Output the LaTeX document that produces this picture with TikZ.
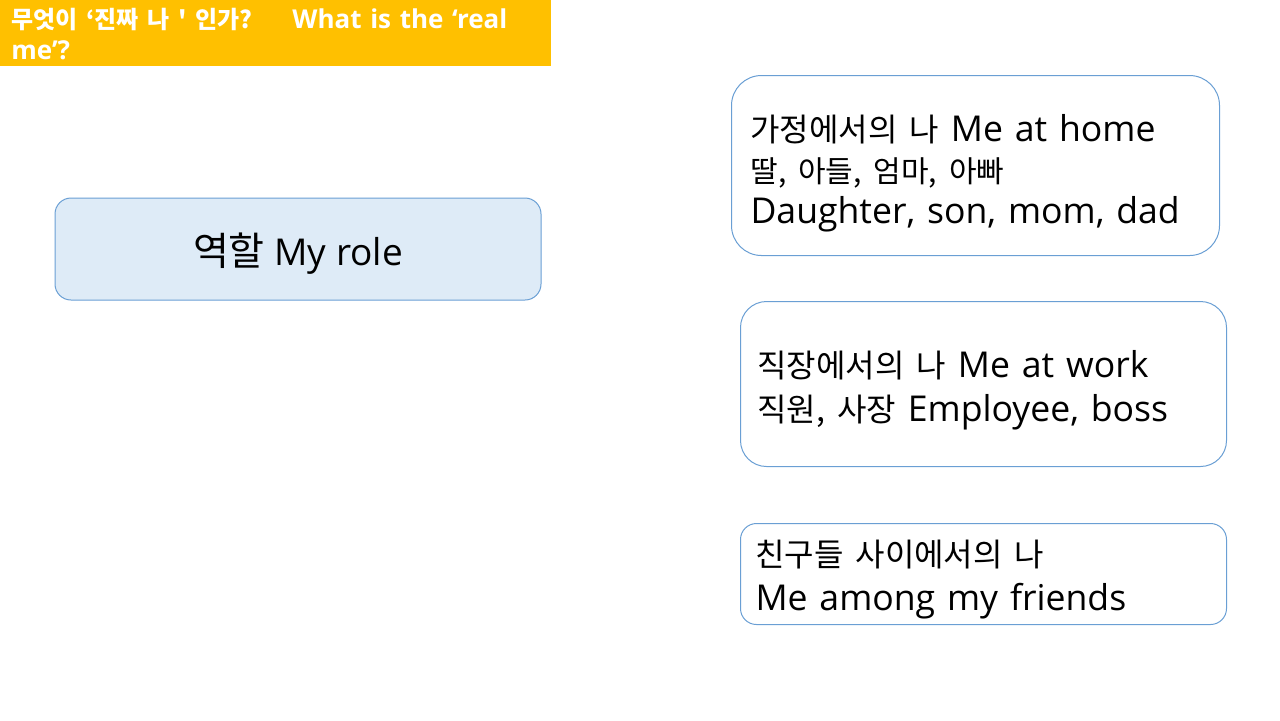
\documentclass[tikz,border=0pt]{standalone}
\usepackage{fontspec}
\setmainfont{Open Sans}
\newfontfamily\kr{Noto Sans CJK KR}
\newcommand{\ko}[2][16]{{\kr\fontsize{#1}{20}\selectfont #2}}
\newcommand{\topgap}[1]{\rule{0pt}{#1}}
\definecolor{titlegold}{HTML}{FFC000}
\definecolor{roleblue}{HTML}{DEEBF7}
\definecolor{edgeblue}{HTML}{6A9FD4}
\begin{document}
\begin{tikzpicture}[x=0.5pt, y=-0.5pt,
    rolebox/.style={draw=edgeblue, line width=0.5pt, rounded corners=8pt, anchor=north west, inner sep=0pt},
    sidebox/.style={rolebox, fill=white, align=left, text width=#1}]
\useasboundingbox (0,0) rectangle (1280,720);
% title bar
\fill[titlegold] (0,0) rectangle (551,66);
\node[anchor=north west, text width=255pt, align=left, text=white,
      font=\bfseries\fontsize{13}{15.5}\selectfont, inner sep=0pt] (title) at (11,8)
    {\ko[12]{무엇이 ‘진짜 나 {\char"0027} 인가?}\hspace{20pt}What is the ‘real me’?};
% left box
\node[rolebox, fill=roleblue, minimum width=243pt, minimum height=51pt, anchor=center,
      text height=17pt, text depth=1pt, font=\fontsize{18.5}{20}\selectfont] (role) at (298,249)
    {\ko[19.5]{역할} My role};
% right boxes
\node[sidebox=225pt, minimum height=90pt, inner xsep=9.5pt, rounded corners=15pt,
      font=\fontsize{17.8}{20.5}\selectfont] (home) at (731,75)
    {\topgap{21pt}\ko{가정에서의 나} Me at home\\
     \ko[15]{딸, 아들, 엄마, 아빠}\\
     Daughter, son, mom, dad};
\node[sidebox=226pt, minimum height=82.5pt, inner xsep=8.5pt, rounded corners=13pt,
      font=\fontsize{17.8}{22}\selectfont] (work) at (740,301)
    {\topgap{19.5pt}\ko{직장에서의 나} Me at work\\
     \ko{직원, 사장} Employee, boss};
\node[sidebox=228pt, minimum height=50.5pt, inner xsep=7.5pt, rounded corners=8pt,
      font=\fontsize{17.8}{22}\selectfont] (friends) at (740,523)
    {\topgap{19pt}\ko{친구들 사이에서의 나}\\
     Me among my friends};
\end{tikzpicture}
\end{document}
